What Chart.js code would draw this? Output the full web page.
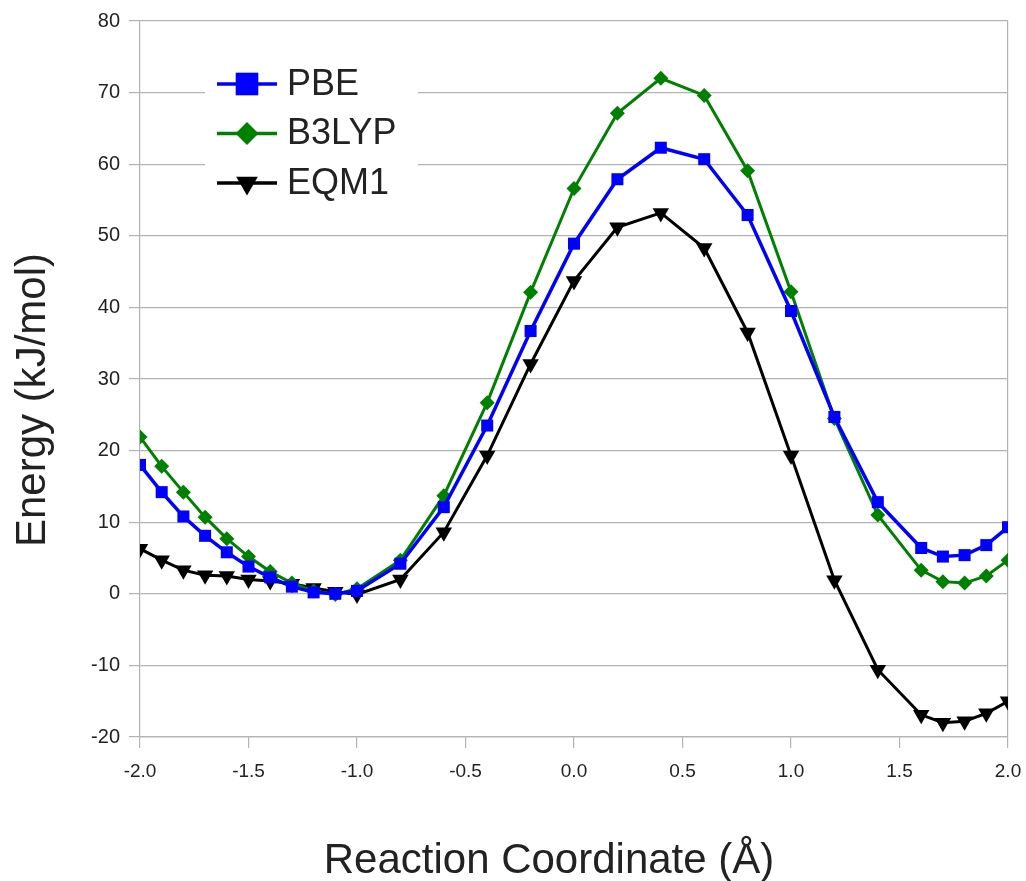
<!DOCTYPE html>
<html>
<head>
<meta charset="utf-8">
<script src="https://cdn.jsdelivr.net/npm/chart.js@4"></script>
<style>
  html, body { margin: 0; padding: 0; background: #fff; }
  #wrap { width: 1026px; height: 881px; }
</style>
</head>
<body>
<div id="wrap"><canvas id="energyChart" width="1026" height="881"></canvas></div>
<script>
// Reaction coordinate (Å)
const coords = [-2.0, -1.9, -1.8, -1.7, -1.6, -1.5, -1.4, -1.3, -1.2, -1.1, -1.0,
  -0.8, -0.6, -0.4, -0.2, 0.0, 0.2, 0.4, 0.6, 0.8, 1.0, 1.2, 1.4, 1.6, 1.7, 1.8, 1.9, 2.0];

// Energies (kJ/mol)
const pbe = [18.0, 14.2, 10.8, 8.1, 5.8, 3.8, 2.3, 1.0, 0.2, 0.0, 0.4,
  4.2, 12.1, 23.5, 36.7, 48.9, 57.9, 62.3, 60.7, 52.9, 39.5, 24.7, 12.8, 6.4, 5.2, 5.4, 6.8, 9.3];
const b3lyp = [21.9, 17.8, 14.2, 10.7, 7.7, 5.2, 3.1, 1.5, 0.4, -0.1, 0.7,
  4.7, 13.7, 26.7, 42.1, 56.6, 67.1, 72.0, 69.6, 59.1, 42.2, 24.5, 11.0, 3.3, 1.7, 1.5, 2.5, 4.7];
const eqm1 = [6.3, 4.7, 3.3, 2.6, 2.5, 2.0, 1.8, 1.4, 0.8, 0.3, -0.1,
  2.0, 8.6, 19.3, 32.1, 43.7, 51.2, 53.2, 48.3, 36.5, 19.3, 1.9, -10.6, -16.9, -18.0, -17.8, -16.7, -15.0];

const seriesNames = ['PBE', 'B3LYP', 'EQM1'];
const xTitle = 'Reaction Coordinate (Å)';
const yTitle = 'Energy (kJ/mol)';

const FONT = '"Liberation Sans", Arial, sans-serif';
const GRID = '#b3b3b3';

const toPoints = vals => vals.map((v, i) => ({ x: coords[i], y: v }));

// legend drawn inside the plot, top-left, on a white box
const innerLegend = {
  id: 'innerLegend',
  beforeDatasetsDraw(chart) {
    const ctx = chart.ctx;
    const sizes = [16, 11.5, 12.5];
    ctx.save();
    ctx.fillStyle = '#fff';
    ctx.fillRect(205, 50, 213, 160);
    chart.data.datasets.forEach((ds, i) => {
      const y = 84 + i * 49.5;
      ctx.strokeStyle = ds.borderColor;
      ctx.lineWidth = 3.5;
      ctx.beginPath();
      ctx.moveTo(217, y);
      ctx.lineTo(277, y);
      ctx.stroke();
      ctx.fillStyle = ds.pointBackgroundColor;
      ctx.strokeStyle = ds.pointBorderColor;
      Chart.helpers.drawPoint(ctx, {
        pointStyle: ds.pointStyle,
        radius: sizes[i],
        rotation: ds.pointRotation || 0,
        borderWidth: 0
      }, 247, y);
      ctx.fillStyle = '#222';
      ctx.font = '36px ' + FONT;
      ctx.textBaseline = 'middle';
      ctx.textAlign = 'left';
      ctx.fillText(ds.label, 287, y + 1);
    });
    ctx.restore();
  }
};

const axisTitles = {
  id: 'axisTitles',
  afterDraw(chart) {
    const ctx = chart.ctx;
    ctx.save();
    ctx.fillStyle = '#222';
    ctx.font = '42px ' + FONT;
    ctx.textAlign = 'center';
    ctx.textBaseline = 'alphabetic';
    ctx.fillText(xTitle, 549, 873);
    ctx.translate(45, 400);
    ctx.rotate(-Math.PI / 2);
    ctx.fillText(yTitle, 0, 0);
    ctx.restore();
  }
};

new Chart(document.getElementById('energyChart').getContext('2d'), {
  type: 'line',
  data: {
    datasets: [
      {
        label: seriesNames[0],
        data: toPoints(pbe),
        borderColor: '#0000ff',
        backgroundColor: '#0000ff',
        pointBackgroundColor: '#0000ff',
        pointBorderColor: '#0000ff',
        borderWidth: 3.5,
        pointStyle: 'rect',
        pointRadius: 8.5,
        pointBorderWidth: 0,
        tension: 0
      },
      {
        label: seriesNames[1],
        data: toPoints(b3lyp),
        borderColor: '#008000',
        backgroundColor: '#008000',
        pointBackgroundColor: '#008000',
        pointBorderColor: '#008000',
        borderWidth: 3,
        pointStyle: 'rectRot',
        pointRadius: 7.5,
        pointBorderWidth: 0,
        tension: 0
      },
      {
        label: seriesNames[2],
        data: toPoints(eqm1),
        borderColor: '#000000',
        backgroundColor: '#000000',
        pointBackgroundColor: '#000000',
        pointBorderColor: '#000000',
        borderWidth: 3,
        pointStyle: 'triangle',
        pointRotation: 180,
        pointRadius: 9.5,
        pointBorderWidth: 0,
        tension: 0
      }
    ]
  },
  options: {
    responsive: false,
    animation: false,
    layout: { padding: { left: 0, right: 18, top: 19, bottom: 0 } },
    plugins: {
      legend: { display: false },
      tooltip: { enabled: false }
    },
    scales: {
      x: {
        type: 'linear',
        min: -2,
        max: 2,
        afterFit(scale) {
          scale.height = 144;
          scale.paddingRight = 0;
          scale.paddingLeft = 0;
        },
        ticks: {
          stepSize: 0.5,
          color: '#222',
          padding: 12,
          maxRotation: 0,
          font: { family: FONT, size: 19 },
          callback: v => v.toFixed(1)
        },
        grid: {
          color: c => (c.index === 8 ? GRID : 'rgba(0,0,0,0)'),
          tickColor: GRID,
          tickLength: 11,
          lineWidth: 1.2
        },
        border: { color: GRID, width: 1.2 }
      },
      y: {
        min: -20,
        max: 80,
        afterFit(scale) { scale.width = 140; },
        ticks: {
          stepSize: 10,
          color: '#222',
          padding: 9,
          font: { family: FONT, size: 20 }
        },
        grid: {
          color: GRID,
          tickColor: GRID,
          tickLength: 11,
          lineWidth: 1.2
        },
        border: { color: GRID, width: 1.2 }
      }
    }
  },
  plugins: [innerLegend, axisTitles]
});
</script>
</body>
</html>
